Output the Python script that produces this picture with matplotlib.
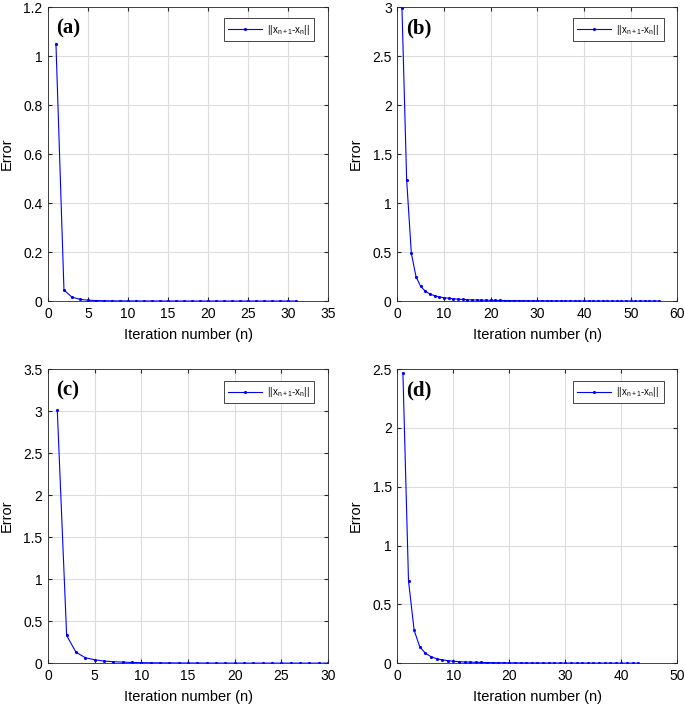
import numpy as np
import matplotlib.pyplot as plt

plt.rcParams['font.family'] = ['Liberation Sans', 'DejaVu Sans']
plt.rcParams['mathtext.default'] = 'regular'

# error per iteration
err_a = [1.05, 0.045, 0.016, 0.007, 0.0035, 0.002, 0.0012, 0.0008, 0.0006, 0.0005,
         0.0004, 0.0003, 0.0003, 0.0002, 0.0002, 0.0002, 0.0001, 0.0001, 0.0001, 0.0001,
         0.0001, 0.0001, 0.0001, 0.0001, 0.0001, 0.0001, 0.0001, 0.0001, 0.0001, 0.0001,
         0.0001]
err_b = [2.99, 1.24, 0.49, 0.25, 0.15, 0.10, 0.072, 0.054, 0.042, 0.034,
         0.028, 0.023, 0.019, 0.016, 0.014, 0.012, 0.011, 0.0095, 0.0085, 0.0076,
         0.0068, 0.0061, 0.0055, 0.005, 0.0045, 0.0041, 0.0037, 0.0034, 0.0031, 0.0028,
         0.0026, 0.0024, 0.0022, 0.002, 0.0018, 0.0017, 0.0016, 0.0015, 0.0014, 0.0013,
         0.0012, 0.0011, 0.001, 0.001, 0.0009, 0.0009, 0.0008, 0.0008, 0.0007, 0.0007,
         0.0007, 0.0006, 0.0006, 0.0006, 0.0005, 0.0005]
err_c = [3.01, 0.33, 0.13, 0.065, 0.04, 0.025, 0.017, 0.012, 0.008, 0.006,
         0.0045, 0.0035, 0.0028, 0.0022, 0.0018, 0.0015, 0.0012, 0.001, 0.0008, 0.0007,
         0.0006, 0.0005, 0.0004, 0.0004, 0.0003, 0.0003, 0.0003, 0.0002, 0.0002, 0.0002]
err_d = [2.47, 0.70, 0.28, 0.14, 0.085, 0.055, 0.038, 0.028, 0.021, 0.016,
         0.013, 0.010, 0.0085, 0.007, 0.006, 0.005, 0.0043, 0.0037, 0.0032, 0.0028,
         0.0025, 0.0022, 0.0019, 0.0017, 0.0015, 0.0014, 0.0012, 0.0011, 0.001, 0.0009,
         0.0008, 0.0008, 0.0007, 0.0006, 0.0006, 0.0005, 0.0005, 0.0005, 0.0004, 0.0004,
         0.0004, 0.0003, 0.0003]

panels = ['(a)', '(b)', '(c)', '(d)']
all_err = [err_a, err_b, err_c, err_d]
xmax = [35, 60, 30, 50]
xstep = [5, 10, 5, 10]
ymax = [1.2, 3, 3.5, 2.5]
ystep = [0.2, 0.5, 0.5, 0.5]

# axes boxes in figure fractions
boxes = [[0.070, 0.576, 0.409, 0.414],
         [0.580, 0.576, 0.409, 0.414],
         [0.070, 0.066, 0.409, 0.414],
         [0.580, 0.066, 0.409, 0.414]]

fig = plt.figure(figsize=(6.85, 7.10), dpi=100)

for i in range(4):
	ax = fig.add_axes(boxes[i])
	y = all_err[i]
	n = np.arange(1, len(y) + 1)
	ax.plot(n, y, color='#0000ff', linewidth=0.8, marker='.', markersize=2.5,
	        label=r'||x$_{n+1}$-x$_n$||')
	ax.set_xlim(0, xmax[i])
	ax.set_ylim(0, ymax[i])
	ax.set_xticks(np.arange(0, xmax[i] + 0.001, xstep[i]))
	yt = np.arange(0, ymax[i] + 0.001, ystep[i])
	ax.set_yticks(yt)
	ax.set_yticklabels(['%g' % v for v in yt])
	ax.grid(True, color='#dcdcdc', linewidth=0.8)
	ax.set_axisbelow(True)
	ax.tick_params(direction='in', top=True, right=True, length=3,
	               labelsize=10, colors='#262626', labelcolor='black', pad=4)
	for s in ax.spines.values():
		s.set_color('#262626')
		s.set_linewidth(0.6)
	ax.set_xlabel('Iteration number (n)', fontsize=10.5, labelpad=5)
	ax.set_ylabel('Error', fontsize=10.5, labelpad=7)
	ax.text(0.03, 0.96, panels[i], transform=ax.transAxes, ha='left', va='top',
	        fontsize=15, fontweight='bold', family='Liberation Serif')
	leg = ax.legend(loc='upper right', fontsize=7, handlelength=3.5,
	                fancybox=False, framealpha=1, borderpad=0.45,
	                handletextpad=0.5, bbox_to_anchor=(0.968, 0.978))
	leg.get_frame().set_edgecolor('#262626')
	leg.get_frame().set_linewidth(0.6)

fig.savefig('out.png', dpi=100)
